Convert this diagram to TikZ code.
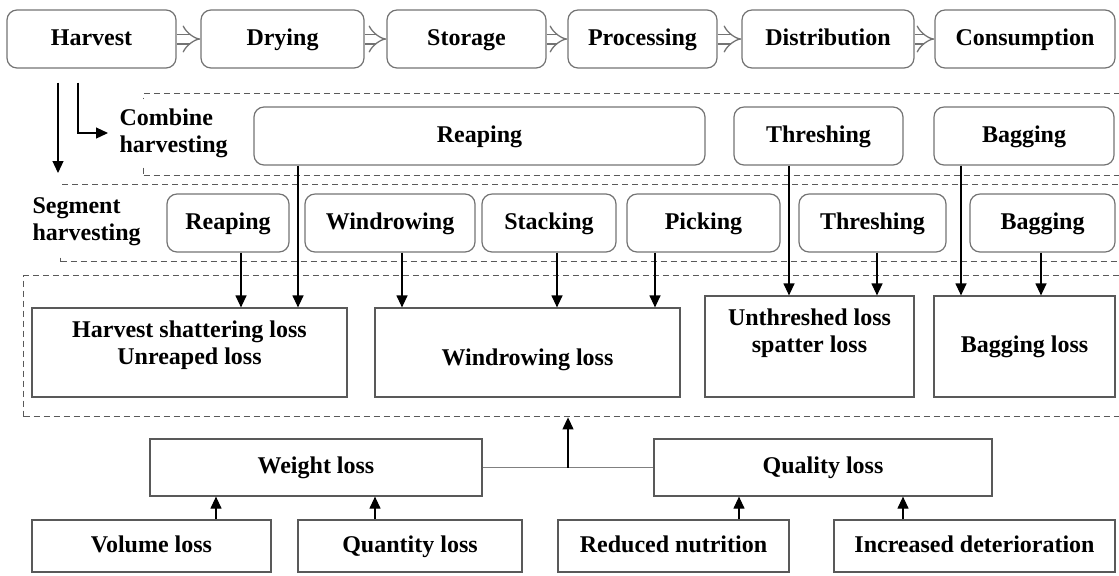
\documentclass[tikz,border=0pt]{standalone}
\usepackage{fontspec}
\setmainfont{Liberation Serif}
\usetikzlibrary{arrows.meta}

\tikzset{
  stagebox/.style={draw=black!55, line width=0.6pt, rounded corners=5pt, inner sep=0pt, minimum height=29pt,
    text height=8.5pt, text depth=2.5pt},
  lossbox/.style={draw=black!65, line width=0.6pt, inner sep=0pt, align=center, text height=8.5pt, text depth=2.5pt},
  region/.style={draw=black!65, line width=0.7pt, dash pattern=on 3pt off 2pt, inner sep=0pt, anchor=north west},
  flow/.style={draw=black!55, line width=0.65pt, double, double distance=4.2pt, -{Implies}},
  sidelabel/.style={fill=white, align=left, inner xsep=3pt, inner ysep=5pt, anchor=west},
}

\begin{document}
\begin{tikzpicture}[x=0.5pt, y=-0.5pt, >={Triangle[length=6pt,width=5.5pt]}, line width=0.6pt,
    every node/.style={font=\bfseries\fontsize{12}{13.5}\selectfont}]
    \useasboundingbox (0,0) rectangle (1119,575);
    \clip (0,0) rectangle (1119,575);

    % supply chain
    \node[stagebox, minimum width=84.5pt] (harvest)      at (91.5,39)  {Harvest};
    \node[stagebox, minimum width=81.5pt] (drying)       at (282.5,39) {Drying};
    \node[stagebox, minimum width=79.5pt] (storage)      at (466.5,39) {Storage};
    \node[stagebox, minimum width=74.5pt] (processing)   at (642.5,39) {Processing};
    \node[stagebox, minimum width=86pt]   (distribution) at (828,39)   {Distribution};
    \node[stagebox, minimum width=90pt]   (consumption)  at (1025,39)  {Consumption};

    \draw[flow] (harvest) -- (drying);
    \draw[flow] (drying) -- (storage);
    \draw[flow] (storage) -- (processing);
    \draw[flow] (processing) -- (distribution);
    \draw[flow] (distribution) -- (consumption);

    % dashed areas
    \node[region, minimum width=493.5pt, minimum height=41pt]   (combarea) at (143,93)  {};
    \node[region, minimum width=535pt,   minimum height=38.5pt] (segarea)  at (60,184)  {};
    \node[region, minimum width=553.5pt, minimum height=70.5pt] (lossarea) at (23,275)  {};

    \node[sidelabel] (comblabel) at (113,133) {Combine\\harvesting};
    \node[sidelabel] (seglabel)  at (26,222)  {Segment\\harvesting};

    \coordinate (segtip) at (58,173);
    \draw[->, shorten <=7pt] (58,0 |- harvest.south) -- (segtip);
    \draw[->, shorten <=7pt, shorten >=2.5pt] (78,0 |- harvest.south) |- (comblabel.west);

    % combine harvesting
    \node[stagebox, minimum width=225.5pt] (creap)   at (479.5,136) {Reaping};
    \node[stagebox, minimum width=84.5pt]  (cthresh) at (818.5,136) {Threshing};
    \node[stagebox, minimum width=90pt]    (cbag)    at (1024,136)  {Bagging};

    % segment harvesting
    \node[stagebox, minimum width=61pt]   (sreap)   at (228,223)    {Reaping};
    \node[stagebox, minimum width=85pt]   (swind)   at (390,223)    {Windrowing};
    \node[stagebox, minimum width=67pt]   (sstack)  at (549,223)    {Stacking};
    \node[stagebox, minimum width=76.5pt] (spick)   at (703.5,223)  {Picking};
    \node[stagebox, minimum width=73.5pt] (sthresh) at (872.5,223)  {Threshing};
    \node[stagebox, minimum width=72.5pt] (sbag)    at (1042.5,223) {Bagging};

    % losses
    \node[lossbox, minimum width=157.5pt, minimum height=44.5pt,
      label={[align=center, yshift=3.75pt]center:Harvest shattering loss\\Unreaped loss}]
      (lshat) at (189.5,352.5) {};
    \node[lossbox, minimum width=152.5pt, minimum height=44.5pt,
      label={[yshift=-3.5pt]center:Windrowing loss}]
      (lwind) at (527.5,352.5) {};
    \node[lossbox, minimum width=104.5pt, minimum height=50.5pt,
      label={[align=center, yshift=6.5pt]center:Unthreshed loss\\spatter loss}]
      (lthresh) at (809.5,346.5) {};
    \node[lossbox, minimum width=90.5pt, minimum height=50.5pt] (lbag) at (1024.5,346.5) {Bagging loss};

    \draw[->] (241,0 |- sreap.south)   -- (241,0 |- lshat.north);
    \draw[->] (298,0 |- creap.south)   -- (298,0 |- lshat.north);
    \draw[->] (402,0 |- swind.south)   -- (402,0 |- lwind.north);
    \draw[->] (557,0 |- sstack.south)  -- (557,0 |- lwind.north);
    \draw[->] (655,0 |- spick.south)   -- (655,0 |- lwind.north);
    \draw[->] (789,0 |- cthresh.south) -- (789,0 |- lthresh.north);
    \draw[->] (877,0 |- sthresh.south) -- (877,0 |- lthresh.north);
    \draw[->] (961,0 |- cbag.south)    -- (961,0 |- lbag.north);
    \draw[->] (1041,0 |- sbag.south)   -- (1041,0 |- lbag.north);

    % loss types
    \node[lossbox, minimum width=166pt, minimum height=28.5pt]  (weight)    at (316,467.5)  {Weight loss};
    \node[lossbox, minimum width=169pt, minimum height=28.5pt]  (quality)   at (823,467.5)  {Quality loss};
    \node[lossbox, minimum width=119.5pt, minimum height=26pt]  (volume)    at (151.5,546)  {Volume loss};
    \node[lossbox, minimum width=112pt, minimum height=26pt]    (quantity)  at (410,546)    {Quantity loss};
    \node[lossbox, minimum width=115.5pt, minimum height=26pt]  (nutrition) at (673.5,546)  {Reduced nutrition};
    \node[lossbox, minimum width=140.5pt, minimum height=26pt]  (deterior)  at (974.5,546)  {Increased deterioration};

    \draw[black!50] (weight.east) -- (quality.west);
    \draw[->] (568,0 |- weight.east) -- (568,0 |- lossarea.south);
    \draw[->] (216,0 |- volume.north)   -- (216,0 |- weight.south);
    \draw[->] (375,0 |- quantity.north) -- (375,0 |- weight.south);
    \draw[->] (739,0 |- nutrition.north) -- (739,0 |- quality.south);
    \draw[->] (903,0 |- deterior.north)  -- (903,0 |- quality.south);
\end{tikzpicture}
\end{document}
